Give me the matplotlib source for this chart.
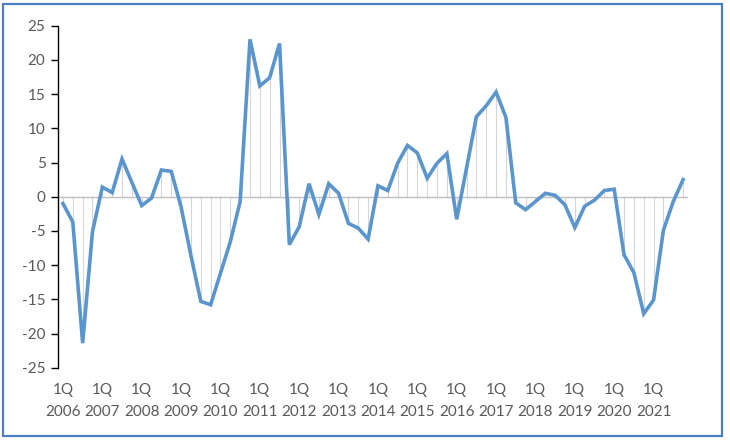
"""Quarterly change, 1Q 2006 - 4Q 2021, line with drop lines to zero."""

import numpy as np
import matplotlib
import matplotlib.pyplot as plt
from matplotlib.patches import Rectangle

matplotlib.use("Agg")

plt.rcParams["font.family"] = ["Lato", "DejaVu Sans"]

# one value per quarter, 1Q 2006 .. 4Q 2021
years = list(range(2006, 2022))
values = [
    -1.0, -3.7, -21.4, -5.1,    # 2006
    1.4, 0.6, 5.5, 2.1,         # 2007
    -1.3, -0.2, 3.9, 3.7,       # 2008
    -1.5, -8.6, -15.3, -15.8,   # 2009
    -11.2, -6.6, -0.7, 23.0,    # 2010
    16.2, 17.4, 22.4, -7.0,     # 2011
    -4.4, 1.9, -2.6, 1.9,       # 2012
    0.5, -3.9, -4.6, -6.2,      # 2013
    1.6, 0.9, 4.9, 7.5,         # 2014
    6.4, 2.7, 4.9, 6.3,         # 2015
    -3.3, 4.2, 11.7, 13.3,      # 2016
    15.3, 11.6, -0.9, -1.9,     # 2017
    -0.7, 0.5, 0.2, -1.2,       # 2018
    -4.5, -1.4, -0.5, 0.9,      # 2019
    1.1, -8.5, -11.1, -17.1,    # 2020
    -15.1, -4.9, -0.7, 2.5,     # 2021
]
tick_labels = [f"1Q\n{y}" for y in years]
y_ticks = [-25, -20, -15, -10, -5, 0, 5, 10, 15, 20, 25]

LINE_COLOR = "#5B95CD"
TEXT_COLOR = "#595959"

fig = plt.figure(figsize=(7.3, 4.4), dpi=100)
ax = fig.add_axes([0.0795, 0.1643, 0.863, 0.7773])

x = np.arange(len(values))
vals = np.array(values)

# drop lines from each point to zero
ax.vlines(x, 0, vals, colors="#D6D6D6", linewidth=0.8, zorder=1)
ax.axhline(0, color="#BFBFBF", linewidth=1.0, zorder=1)
ax.plot(x, vals, color=LINE_COLOR, linewidth=2.6, solid_joinstyle="miter", zorder=3)

ax.set_xlim(-0.5, len(values) - 0.5)
ax.set_ylim(-25, 25)
ax.set_yticks(y_ticks)
ax.set_yticklabels([str(v) for v in y_ticks])
ax.set_xticks(x[::4])
ax.set_xticklabels(tick_labels, linespacing=1.75)

ax.tick_params(axis="y", direction="out", length=5, width=1, color="black",
               labelsize=11, labelcolor=TEXT_COLOR, pad=4)
ax.tick_params(axis="x", length=0, labelsize=11, labelcolor=TEXT_COLOR, pad=11)

for side in ("top", "right", "bottom"):
    ax.spines[side].set_visible(False)
ax.spines["left"].set_color("black")
ax.spines["left"].set_linewidth(1.0)

# chart area border
fig.patches.append(Rectangle((3 / 730, 4 / 440), 719 / 730, 432 / 440,
                             transform=fig.transFigure, fill=False,
                             edgecolor="#4A7CC9", linewidth=1.6))

fig.savefig("out.png", dpi=100)
plt.close(fig)
